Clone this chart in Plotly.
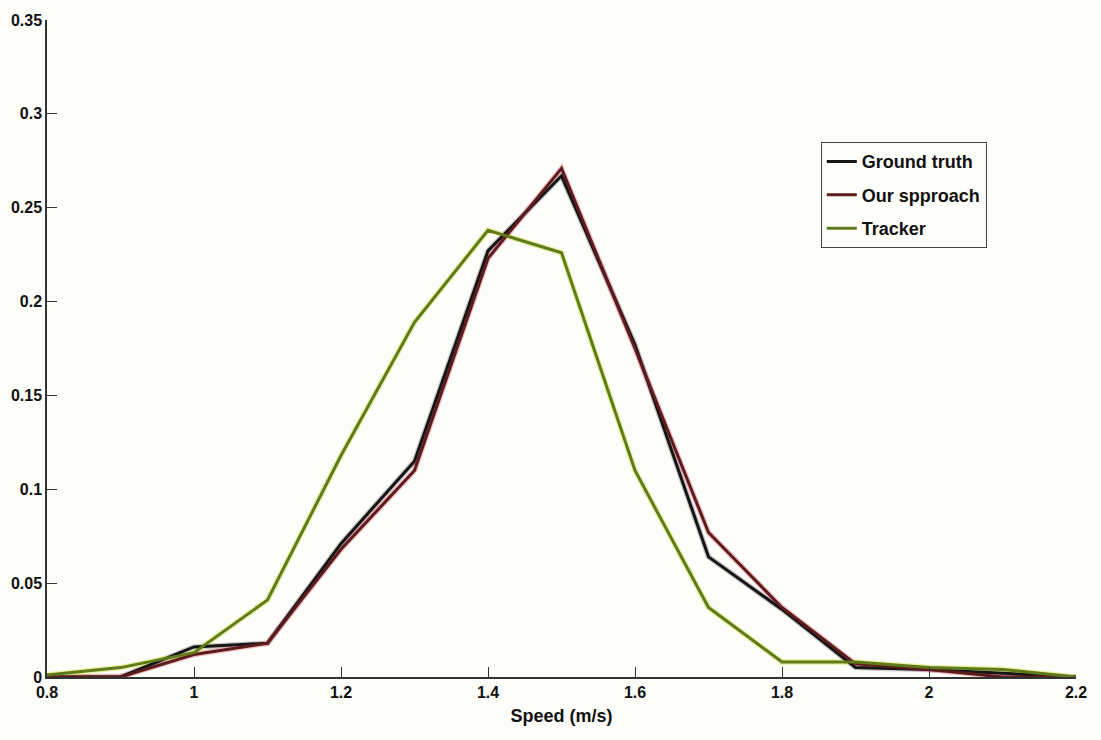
import plotly.graph_objects as go

speed = [0.8, 0.9, 1.0, 1.1, 1.2, 1.3, 1.4, 1.5, 1.6, 1.7, 1.8, 1.9, 2.0, 2.1, 2.2]

ground_truth = [0.0, 0.0, 0.016, 0.018, 0.071, 0.115, 0.227, 0.267, 0.177, 0.064,
                0.036, 0.005, 0.004, 0.002, 0.0]
our_approach = [0.0, 0.0, 0.012, 0.018, 0.068, 0.110, 0.223, 0.271, 0.175, 0.077,
                0.037, 0.007, 0.004, 0.0, 0.0]
tracker = [0.001, 0.005, 0.013, 0.041, 0.118, 0.189, 0.238, 0.226, 0.110, 0.037,
           0.008, 0.008, 0.005, 0.004, 0.0]

x_ticks = [0.8, 1.0, 1.2, 1.4, 1.6, 1.8, 2.0, 2.2]
x_tick_text = ["0.8", "1", "1.2", "1.4", "1.6", "1.8", "2", "2.2"]
y_ticks = [0, 0.05, 0.1, 0.15, 0.2, 0.25, 0.3, 0.35]
y_tick_text = ["0", "0.05", "0.1", "0.15", "0.2", "0.25", "0.3", "0.35"]

FONT = "Liberation Sans Narrow, Arial Narrow, Liberation Sans, Arial, sans-serif"

fig = go.Figure()

series = [
    ("Ground truth", ground_truth, "#151515"),
    ("Our spproach", our_approach, "#5c1c1c"),
    ("Tracker", tracker, "#5f7a1c"),
]
# soft halo under each line
halo = {"Ground truth": "rgba(60,40,60,0.25)",
        "Our spproach": "rgba(230,120,130,0.45)",
        "Tracker": "rgba(220,230,90,0.55)"}

for name, vals, col in series:
    fig.add_trace(go.Scatter(x=speed, y=vals, mode="lines", showlegend=False,
                             hoverinfo="skip",
                             line=dict(color=halo[name], width=5.5)))
for name, vals, col in series:
    fig.add_trace(go.Scatter(x=speed, y=vals, mode="lines", name=name,
                             legendgroup=name,
                             line=dict(color=col, width=3)))

fig.update_layout(
    width=1101, height=740,
    margin=dict(l=47, r=25, t=20, b=63, autoexpand=False),
    paper_bgcolor="#fdfdf9",
    plot_bgcolor="#fdfdf9",
    font=dict(family=FONT, size=16, color="#111111", weight="bold"),
    legend=dict(
        x=0.752, y=0.814, xanchor="left", yanchor="top",
        bgcolor="#fdfdf9", bordercolor="#444444", borderwidth=1,
        font=dict(family=FONT, size=18, color="#111111", weight="bold"),
        traceorder="grouped", tracegroupgap=7,
    ),
    xaxis=dict(
        range=[0.8, 2.2], tickvals=x_ticks, ticktext=x_tick_text,
        showgrid=False, zeroline=False, showline=True, linecolor="#333333",
        linewidth=1.5, ticks="inside", ticklen=10, tickcolor="#333333",
        tickfont=dict(family=FONT, size=16, weight="bold"),
        title=dict(text="Speed (m/s)", font=dict(family=FONT, size=18, weight="bold"),
                   standoff=9),
    ),
    yaxis=dict(
        range=[0, 0.35], tickvals=y_ticks, ticktext=y_tick_text,
        showgrid=False, zeroline=False, showline=True, linecolor="#333333",
        linewidth=1.5, ticks="inside", ticklen=10, tickcolor="#333333",
        tickfont=dict(family=FONT, size=16, weight="bold"),
    ),
)

fig.write_html("out.html")
